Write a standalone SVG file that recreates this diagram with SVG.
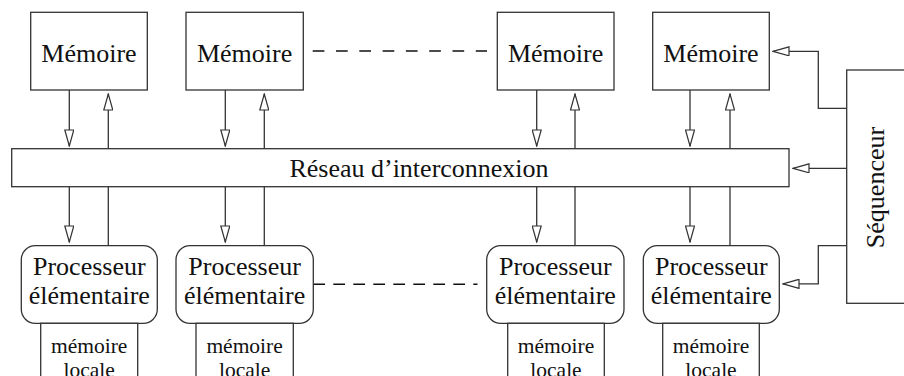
<svg xmlns="http://www.w3.org/2000/svg" width="904" height="376" viewBox="0 0 904 376">
<style>
.box{fill:#fff;stroke:#333;stroke-width:1.3}
.ln{fill:none;stroke:#333;stroke-width:1.3}
.ar{fill:none;stroke:#333;stroke-width:1.3;marker-end:url(#tri)}
text{font-family:'Liberation Serif','Times New Roman','DejaVu Serif',serif;fill:#111;text-anchor:middle}
.t{font-size:26px}
.s{font-size:21.5px}
.d1{fill:none;stroke:#111;stroke-width:1.6;stroke-dasharray:11.7 11.6}
.d2{fill:none;stroke:#111;stroke-width:1.6;stroke-dasharray:11.7 8.3}
</style>
<defs>
<marker id="tri" markerUnits="userSpaceOnUse" markerWidth="18" markerHeight="10" refX="16" refY="4.5" orient="auto" viewBox="-1 -0.5 18 10">
<path d="M0,0 L16,4.5 L0,9 Z" fill="#fff" stroke="#333" stroke-width="1.2"/>
</marker>
</defs>
<rect width="904" height="376" fill="#fff"/>
<g id="connectors">
<path class="ar" d="M69.3,90 V146"/>
<path class="ar" d="M108.3,245.7 V94"/>
<path class="ar" d="M69.3,187 V242"/>
<path class="ar" d="M225.3,90 V146"/>
<path class="ar" d="M264.3,245.7 V94"/>
<path class="ar" d="M225.3,187 V242"/>
<path class="ar" d="M536.7,90 V146"/>
<path class="ar" d="M575,245.7 V94"/>
<path class="ar" d="M536.7,187 V242"/>
<path class="ar" d="M690,90 V146"/>
<path class="ar" d="M730,245.7 V94"/>
<path class="ar" d="M690,187 V242"/>
<path class="ar" d="M846.7,108.3 H818.3 V51.3 H773"/>
<path class="ar" d="M846.7,168.3 H793"/>
<path class="ar" d="M846.7,245.7 H818.3 V283.8 H783"/>
<path class="d1" d="M312.7,51 H487"/>
<path class="d2" d="M313.3,284.3 H477.5"/>
</g>
<g id="reseau">
<rect class="box" x="11.7" y="148.7" width="777.3" height="38"/>
<text class="t" x="419" y="176.7" font-family="Liberation Serif, serif">Réseau d’interconnexion</text>
</g>
<g id="mem1"><rect class="box" x="30.7" y="12.3" width="116.6" height="77.7"/><text class="t" x="89" y="62">Mémoire</text></g>
<g id="mem2"><rect class="box" x="186" y="12.3" width="117.3" height="77.7"/><text class="t" x="244.6" y="62">Mémoire</text></g>
<g id="mem3"><rect class="box" x="497.3" y="12.3" width="116.7" height="77.7"/><text class="t" x="555.6" y="62">Mémoire</text></g>
<g id="mem4"><rect class="box" x="652.7" y="12.3" width="116.6" height="77.7"/><text class="t" x="711" y="62">Mémoire</text></g>
<g id="pe1"><rect class="box" x="21.3" y="245.7" width="136" height="77.6" rx="14"/><text class="t" x="89.3" y="275">Processeur</text><text class="t" x="89.3" y="303.5">élémentaire</text></g>
<g id="pe2"><rect class="box" x="176" y="245.7" width="137.3" height="77.6" rx="14"/><text class="t" x="244.6" y="275">Processeur</text><text class="t" x="244.6" y="303.5">élémentaire</text></g>
<g id="pe3"><rect class="box" x="486.7" y="245.7" width="137.3" height="77.6" rx="14"/><text class="t" x="555.3" y="275">Processeur</text><text class="t" x="555.3" y="303.5">élémentaire</text></g>
<g id="pe4"><rect class="box" x="643.3" y="245.7" width="136" height="77.6" rx="14"/><text class="t" x="711.3" y="275">Processeur</text><text class="t" x="711.3" y="303.5">élémentaire</text></g>
<g id="ml1"><rect class="box" x="40.7" y="323.3" width="97" height="70"/><text class="s" x="89.2" y="353.3">mémoire</text><text class="s" x="89.2" y="376.5">locale</text></g>
<g id="ml2"><rect class="box" x="196" y="323.3" width="97.3" height="70"/><text class="s" x="244.6" y="353.3">mémoire</text><text class="s" x="244.6" y="376.5">locale</text></g>
<g id="ml3"><rect class="box" x="507.7" y="323.3" width="96.6" height="70"/><text class="s" x="556" y="353.3">mémoire</text><text class="s" x="556" y="376.5">locale</text></g>
<g id="ml4"><rect class="box" x="662.7" y="323.3" width="96.6" height="70"/><text class="s" x="711" y="353.3">mémoire</text><text class="s" x="711" y="376.5">locale</text></g>
<g id="sequenceur"><rect class="box" x="846.7" y="70" width="80" height="233.3"/><text class="t" transform="translate(883.5,187.5) rotate(-90)" x="0" y="0">Séquenceur</text></g>
</svg>
